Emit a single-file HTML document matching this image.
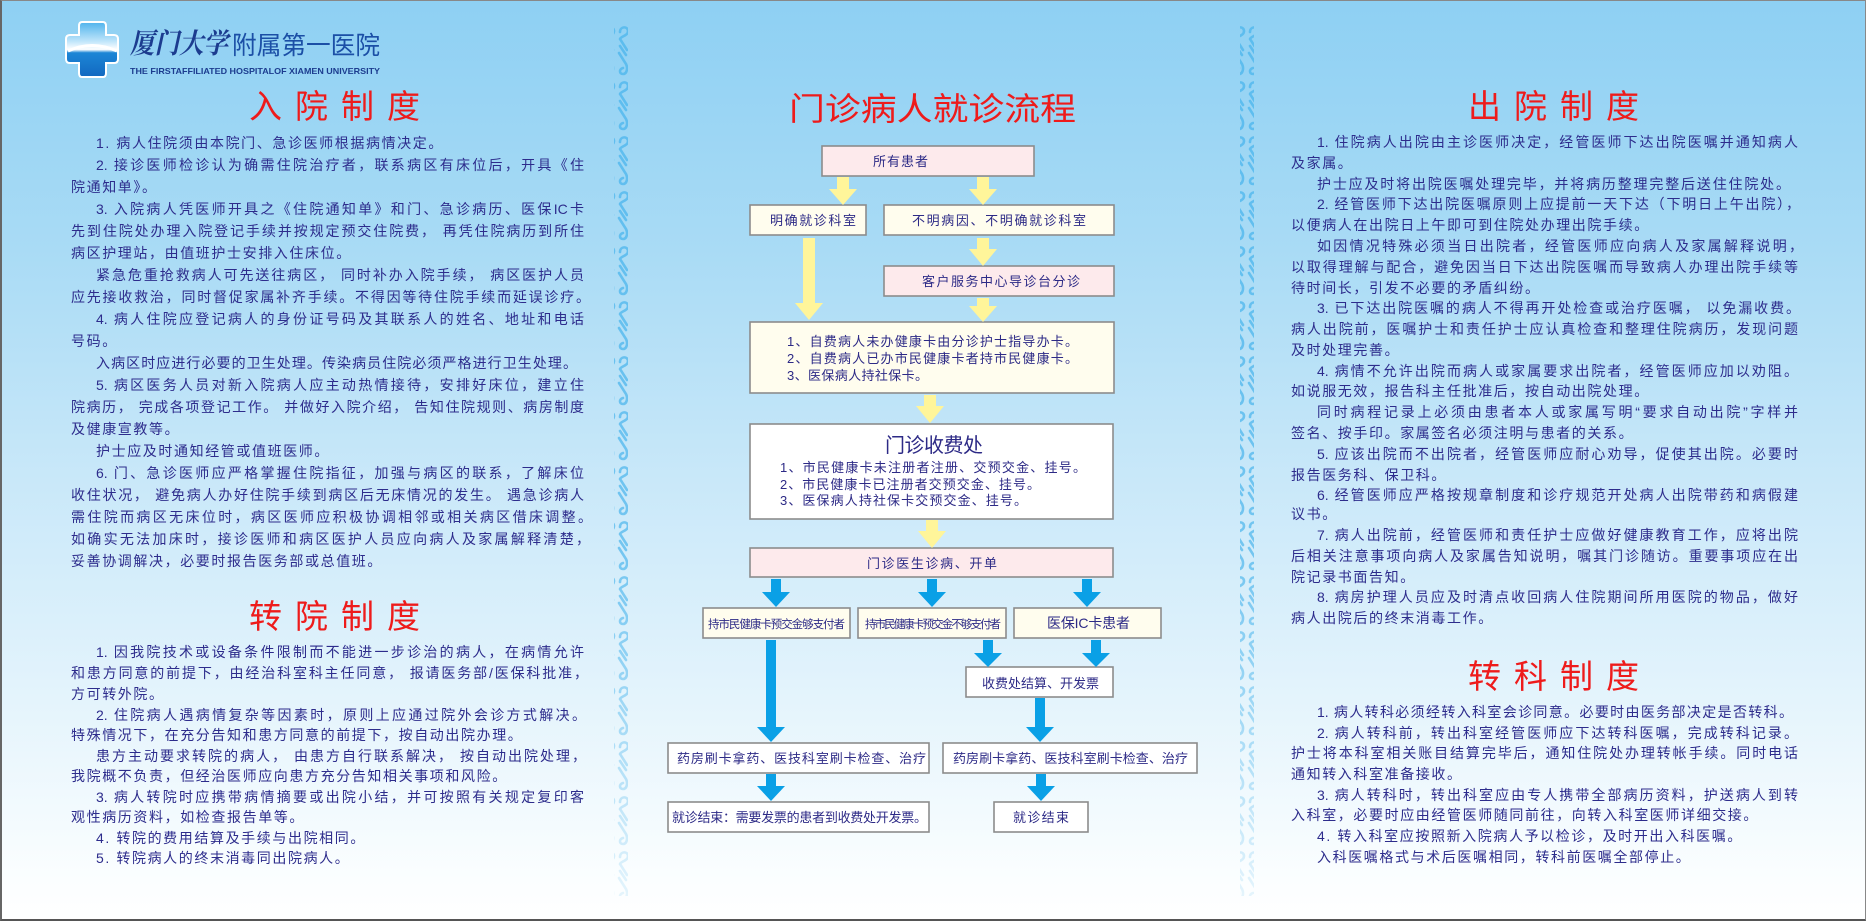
<!DOCTYPE html>
<html><head><meta charset="utf-8">
<style>
*{margin:0;padding:0;box-sizing:border-box}
html,body{width:1866px;height:921px;overflow:hidden}
body{position:relative;font-family:"Liberation Sans","Noto Sans CJK SC",sans-serif;
background:linear-gradient(180deg,#8ed0f3 0px,#a9dbf5 250px,#c9e8f9 480px,#e4f4fc 700px,#fbfeff 880px,#fff 921px);}
.frame{position:absolute;left:0;top:0;width:1866px;height:921px;border:1px solid #888;border-left:2px solid #666;border-bottom:2px solid #555}
.l{position:absolute;height:22px;line-height:22px;font-size:14px;color:#2d2c8c;white-space:nowrap;letter-spacing:1.6px}
.j{text-align:justify;text-align-last:justify;letter-spacing:0;white-space:normal;overflow:hidden}
.t{position:absolute;font-size:33px;color:#ee1b1b;letter-spacing:13px;line-height:36px;white-space:nowrap}
</style></head><body>

<svg width="1866" height="921" style="position:absolute;left:0;top:0" xmlns="http://www.w3.org/2000/svg">
<defs>
<linearGradient id="cg" x1="0" y1="0" x2="0" y2="1">
<stop offset="0" stop-color="#4fb3ec"/><stop offset="0.35" stop-color="#bfe5fa"/><stop offset="0.5" stop-color="#ffffff"/><stop offset="0.56" stop-color="#1c86d6"/><stop offset="1" stop-color="#1268c0"/></linearGradient>
<g id="sw" fill="none" stroke="#5cbcee" stroke-width="2.6" stroke-linecap="round">
<path d="M4 8 C4 2 12 2 12 7 C12 12 5 12 4 15 L11 26"/>
<path d="M4 22 L10 31"/>
<path d="M3 29 L10 40 C12 44 11 50 7 50 C3 50 3 45 7 44"/>
</g>
<pattern id="swp" x="0" y="24" width="14" height="55" patternUnits="userSpaceOnUse"><use href="#sw"/></pattern>
<linearGradient id="fade" x1="0" y1="0" x2="0" y2="1"><stop offset="0" stop-color="#fff" stop-opacity="1"/><stop offset="0.6" stop-color="#fff" stop-opacity="0.8"/><stop offset="1" stop-color="#fff" stop-opacity="0.1"/></linearGradient>
<mask id="fm"><rect x="0" y="0" width="1866" height="921" fill="url(#fade)"/></mask>
</defs>
<!-- dividers -->
<g mask="url(#fm)">
<rect x="614" y="24" width="14" height="872" fill="url(#swp)" transform="translate(0,0)"/>
<rect x="1240" y="24" width="14" height="872" fill="url(#swp)"/>
</g>
<!-- logo cross -->
<path d="M82 22 H103 Q106 22 106 26 V35 H114 Q118 35 118 39 V59 Q118 63 114 63 H106 V73 Q106 77 103 77 H82 Q79 77 79 73 V63 H70 Q66 63 66 59 V39 Q66 35 70 35 H79 V26 Q79 22 82 22 Z" fill="url(#cg)" stroke="#fff" stroke-width="2"/>
<path d="M68 51 Q92 40 117 51" fill="none" stroke="#fff" stroke-width="3"/>
<text x="130" y="53" font-family="Liberation Serif,Noto Serif CJK SC,serif" font-size="28" font-weight="bold" font-style="italic" fill="#1c3c8f" textLength="98" lengthAdjust="spacingAndGlyphs">厦门大学</text>
<text x="232" y="54" font-family="Liberation Sans,Noto Sans CJK SC,sans-serif" font-size="25" fill="#1b4fa6" textLength="148" lengthAdjust="spacingAndGlyphs">附属第一医院</text>
<text x="130" y="74" font-family="Liberation Sans,sans-serif" font-size="8.5" font-weight="bold" fill="#1c3c8f" textLength="250" lengthAdjust="spacingAndGlyphs">THE FIRSTAFFILIATED HOSPITALOF XIAMEN UNIVERSITY</text>

<!-- flow chart -->
<g font-family="Liberation Sans,Noto Sans CJK SC,sans-serif" fill="#2d2a86">
<text x="789" y="120" font-size="32" fill="#ee1b1b" textLength="287" lengthAdjust="spacingAndGlyphs">门诊病人就诊流程</text>
</g>
<g stroke="#8c8c8c" stroke-width="1.6">
<rect x="822" y="146" width="212" height="30" fill="#fdeaec"/>
<rect x="750" y="205" width="116" height="30" fill="#fffdee"/>
<rect x="884" y="205" width="230" height="30" fill="#fffdee"/>
<rect x="884" y="266" width="230" height="30" fill="#fdeaec"/>
<rect x="750" y="322" width="364" height="71" fill="#fffdee"/>
<rect x="750" y="424" width="363" height="95" fill="#ffffff"/>
<rect x="750" y="548" width="363" height="29" fill="#fdeaec"/>
<rect x="703" y="608" width="147" height="30" fill="#fffdee"/>
<rect x="858" y="608" width="148" height="30" fill="#fffdee"/>
<rect x="1014" y="608" width="147" height="30" fill="#fffdee"/>
<rect x="966" y="667" width="147" height="30" fill="#ffffff"/>
<rect x="668" y="743" width="261" height="30" fill="#ffffff"/>
<rect x="943" y="743" width="254" height="30" fill="#ffffff"/>
<rect x="668" y="802" width="261" height="30" fill="#ffffff"/>
<rect x="994" y="802" width="94" height="30" fill="#ffffff"/>
</g>
<!-- yellow arrows -->
<g fill="#fff59a">
<rect x="837" y="177" width="12" height="13"/><polygon points="829,189 857,189 843,205"/>
<rect x="977" y="177" width="12" height="13"/><polygon points="969,189 997,189 983,205"/>
<rect x="977" y="238" width="12" height="12"/><polygon points="969,249 997,249 983,266"/>
<rect x="803" y="238" width="12" height="66"/><polygon points="795,303 823,303 809,320"/>
<rect x="977" y="298" width="12" height="9"/><polygon points="969,306 997,306 983,322"/>
<rect x="924" y="395" width="12" height="12"/><polygon points="916,406 944,406 930,423"/>
<rect x="926" y="520" width="12" height="12"/><polygon points="918,531 946,531 932,548"/>
</g>
<!-- blue arrows -->
<g fill="#0aa0e6">
<rect x="771" y="579" width="10" height="14"/><polygon points="762,592 790,592 776,607"/>
<rect x="927" y="579" width="10" height="14"/><polygon points="918,592 946,592 932,607"/>
<rect x="1082" y="579" width="10" height="14"/><polygon points="1073,592 1101,592 1087,607"/>
<rect x="766" y="640" width="10" height="88"/><polygon points="757,727 785,727 771,742"/>
<rect x="983" y="640" width="10" height="14"/><polygon points="974,653 1002,653 988,667"/>
<rect x="1091" y="640" width="10" height="14"/><polygon points="1082,653 1110,653 1096,667"/>
<rect x="1035" y="698" width="10" height="30"/><polygon points="1026,727 1054,727 1040,742"/>
<rect x="766" y="774" width="10" height="13"/><polygon points="757,786 785,786 771,801"/>
<rect x="1036" y="774" width="10" height="13"/><polygon points="1027,786 1055,786 1041,801"/>
</g>
<g font-family="Liberation Sans,Noto Sans CJK SC,sans-serif" fill="#2d2a86" font-size="13" lengthAdjust="spacingAndGlyphs">
<text x="873" y="166" textLength="55">所有患者</text>
<text x="770" y="225" textLength="86">明确就诊科室</text>
<text x="912" y="225" textLength="174">不明病因、不明确就诊科室</text>
<text x="922" y="286" textLength="158">客户服务中心导诊台分诊</text>
<text x="787" y="346" textLength="291">1、自费病人未办健康卡由分诊护士指导办卡。</text>
<text x="787" y="363" textLength="291">2、自费病人已办市民健康卡者持市民健康卡。</text>
<text x="787" y="380" textLength="141">3、医保病人持社保卡。</text>
<text x="885" y="452" font-size="20" textLength="98">门诊收费处</text>
<text x="780" y="472" textLength="306">1、市民健康卡未注册者注册、交预交金、挂号。</text>
<text x="780" y="489" textLength="260">2、市民健康卡已注册者交预交金、挂号。</text>
<text x="780" y="505" textLength="247">3、医保病人持社保卡交预交金、挂号。</text>
<text x="867" y="568" textLength="130">门诊医生诊病、开单</text>
<text x="708" y="628" font-size="11.5" textLength="137">持市民健康卡预交金够支付者</text>
<text x="865" y="628" font-size="11.5" textLength="136">持市民健康卡预交金不够支付者</text>
<text x="1047" y="628" font-size="14" textLength="83">医保IC卡患者</text>
<text x="982" y="688" textLength="117">收费处结算、开发票</text>
<text x="677" y="763" textLength="249">药房刷卡拿药、医技科室刷卡检查、治疗</text>
<text x="953" y="763" textLength="235">药房刷卡拿药、医技科室刷卡检查、治疗</text>
<text x="672" y="822" textLength="255">就诊结束：需要发票的患者到收费处开发票。</text>
<text x="1013" y="822" textLength="56">就诊结束</text>
</g>
</svg>

<!-- titles -->
<div class="t" style="left:249px;top:89px">入院制度</div>
<div class="t" style="left:249px;top:599px">转院制度</div>
<div class="t" style="left:1468px;top:89px">出院制度</div>
<div class="t" style="left:1468px;top:659px">转科制度</div>

<!-- 入院制度 -->
<div class="l" style="left:96px;top:132px">1. 病人住院须由本院门、急诊医师根据病情决定。</div>
<div class="l j" style="left:96px;top:154px;width:488px">2. 接诊医师检诊认为确需住院治疗者，联系病区有床位后，开具《住</div>
<div class="l" style="left:71px;top:176px">院通知单》。</div>
<div class="l j" style="left:96px;top:198px;width:488px">3. 入院病人凭医师开具之《住院通知单》和门、急诊病历、医保IC卡</div>
<div class="l j" style="left:71px;top:220px;width:513px">先到住院处办理入院登记手续并按规定预交住院费， 再凭住院病历到所住</div>
<div class="l" style="left:71px;top:242px">病区护理站，由值班护士安排入住床位。</div>
<div class="l j" style="left:96px;top:264px;width:488px">紧急危重抢救病人可先送往病区， 同时补办入院手续， 病区医护人员</div>
<div class="l j" style="left:71px;top:286px;width:519px">应先接收救治，同时督促家属补齐手续。不得因等待住院手续而延误诊疗。</div>
<div class="l j" style="left:96px;top:308px;width:488px">4. 病人住院应登记病人的身份证号码及其联系人的姓名、地址和电话</div>
<div class="l" style="left:71px;top:330px">号码。</div>
<div class="l j" style="left:96px;top:352px;width:481px">入病区时应进行必要的卫生处理。传染病员住院必须严格进行卫生处理。</div>
<div class="l j" style="left:96px;top:374px;width:488px">5. 病区医务人员对新入院病人应主动热情接待，安排好床位，建立住</div>
<div class="l j" style="left:71px;top:396px;width:513px">院病历， 完成各项登记工作。 并做好入院介绍， 告知住院规则、病房制度</div>
<div class="l" style="left:71px;top:418px">及健康宣教等。</div>
<div class="l" style="left:96px;top:440px">护士应及时通知经管或值班医师。</div>
<div class="l j" style="left:96px;top:462px;width:488px">6. 门、急诊医师应严格掌握住院指征，加强与病区的联系，了解床位</div>
<div class="l j" style="left:71px;top:484px;width:513px">收住状况， 避免病人办好住院手续到病区后无床情况的发生。 遇急诊病人</div>
<div class="l j" style="left:71px;top:506px;width:521px">需住院而病区无床位时，病区医师应积极协调相邻或相关病区借床调整。</div>
<div class="l j" style="left:71px;top:528px;width:519px">如确实无法加床时，接诊医师和病区医护人员应向病人及家属解释清楚，</div>
<div class="l" style="left:71px;top:550px">妥善协调解决，必要时报告医务部或总值班。</div>

<!-- 转院制度 -->
<div class="l j" style="left:96px;top:641px;width:488px">1. 因我院技术或设备条件限制而不能进一步诊治的病人，在病情允许</div>
<div class="l j" style="left:71px;top:662px;width:517px">和患方同意的前提下，由经治科室科主任同意， 报请医务部/医保科批准，</div>
<div class="l" style="left:71px;top:683px">方可转外院。</div>
<div class="l j" style="left:96px;top:704px;width:490px">2. 住院病人遇病情复杂等因素时，原则上应通过院外会诊方式解决。</div>
<div class="l" style="left:71px;top:724px">特殊情况下，在充分告知和患方同意的前提下，按自动出院办理。</div>
<div class="l j" style="left:96px;top:745px;width:490px">患方主动要求转院的病人， 由患方自行联系解决， 按自动出院处理，</div>
<div class="l" style="left:71px;top:765px">我院概不负责，但经治医师应向患方充分告知相关事项和风险。</div>
<div class="l j" style="left:96px;top:786px;width:488px">3. 病人转院时应携带病情摘要或出院小结，并可按照有关规定复印客</div>
<div class="l" style="left:71px;top:806px">观性病历资料，如检查报告单等。</div>
<div class="l" style="left:96px;top:827px">4. 转院的费用结算及手续与出院相同。</div>
<div class="l" style="left:96px;top:847px">5. 转院病人的终末消毒同出院病人。</div>

<!-- 出院制度 -->
<div class="l j" style="left:1317px;top:131px;width:481px">1. 住院病人出院由主诊医师决定，经管医师下达出院医嘱并通知病人</div>
<div class="l" style="left:1291px;top:152px">及家属。</div>
<div class="l j" style="left:1317px;top:173px;width:473px">护士应及时将出院医嘱处理完毕，并将病历整理完整后送住住院处。</div>
<div class="l j" style="left:1317px;top:193px;width:483px">2. 经管医师下达出院医嘱原则上应提前一天下达（下明日上午出院），</div>
<div class="l" style="left:1291px;top:214px">以便病人在出院日上午即可到住院处办理出院手续。</div>
<div class="l j" style="left:1317px;top:235px;width:486px">如因情况特殊必须当日出院者，经管医师应向病人及家属解释说明，</div>
<div class="l j" style="left:1291px;top:256px;width:507px">以取得理解与配合，避免因当日下达出院医嘱而导致病人办理出院手续等</div>
<div class="l" style="left:1291px;top:277px">待时间长，引发不必要的矛盾纠纷。</div>
<div class="l j" style="left:1317px;top:297px;width:483px">3. 已下达出院医嘱的病人不得再开处检查或治疗医嘱， 以免漏收费。</div>
<div class="l j" style="left:1291px;top:318px;width:507px">病人出院前，医嘱护士和责任护士应认真检查和整理住院病历，发现问题</div>
<div class="l" style="left:1291px;top:339px">及时处理完善。</div>
<div class="l j" style="left:1317px;top:360px;width:481px">4. 病情不允许出院而病人或家属要求出院者，经管医师应加以劝阻。</div>
<div class="l" style="left:1291px;top:380px">如说服无效，报告科主任批准后，按自动出院处理。</div>
<div class="l j" style="left:1317px;top:401px;width:481px">同时病程记录上必须由患者本人或家属写明“要求自动出院”字样并</div>
<div class="l" style="left:1291px;top:422px">签名、按手印。家属签名必须注明与患者的关系。</div>
<div class="l j" style="left:1317px;top:443px;width:481px">5. 应该出院而不出院者，经管医师应耐心劝导，促使其出院。必要时</div>
<div class="l" style="left:1291px;top:464px">报告医务科、保卫科。</div>
<div class="l j" style="left:1317px;top:484px;width:481px">6. 经管医师应严格按规章制度和诊疗规范开处病人出院带药和病假建</div>
<div class="l" style="left:1291px;top:503px">议书。</div>
<div class="l j" style="left:1317px;top:524px;width:481px">7. 病人出院前，经管医师和责任护士应做好健康教育工作，应将出院</div>
<div class="l j" style="left:1291px;top:545px;width:507px">后相关注意事项向病人及家属告知说明，嘱其门诊随访。重要事项应在出</div>
<div class="l" style="left:1291px;top:566px">院记录书面告知。</div>
<div class="l j" style="left:1317px;top:586px;width:481px">8. 病房护理人员应及时清点收回病人住院期间所用医院的物品，做好</div>
<div class="l" style="left:1291px;top:607px">病人出院后的终末消毒工作。</div>

<!-- 转科制度 -->
<div class="l j" style="left:1317px;top:701px;width:476px">1. 病人转科必须经转入科室会诊同意。必要时由医务部决定是否转科。</div>
<div class="l j" style="left:1317px;top:722px;width:481px">2. 病人转科前，转出科室经管医师应下达转科医嘱，完成转科记录。</div>
<div class="l j" style="left:1291px;top:742px;width:507px">护士将本科室相关账目结算完毕后，通知住院处办理转帐手续。同时电话</div>
<div class="l" style="left:1291px;top:763px">通知转入科室准备接收。</div>
<div class="l j" style="left:1317px;top:784px;width:481px">3. 病人转科时，转出科室应由专人携带全部病历资料，护送病人到转</div>
<div class="l" style="left:1291px;top:804px">入科室，必要时应由经管医师随同前往，向转入科室医师详细交接。</div>
<div class="l" style="left:1317px;top:825px">4. 转入科室应按照新入院病人予以检诊，及时开出入科医嘱。</div>
<div class="l" style="left:1317px;top:846px">入科医嘱格式与术后医嘱相同，转科前医嘱全部停止。</div>

<div class="frame"></div>
</body></html>
